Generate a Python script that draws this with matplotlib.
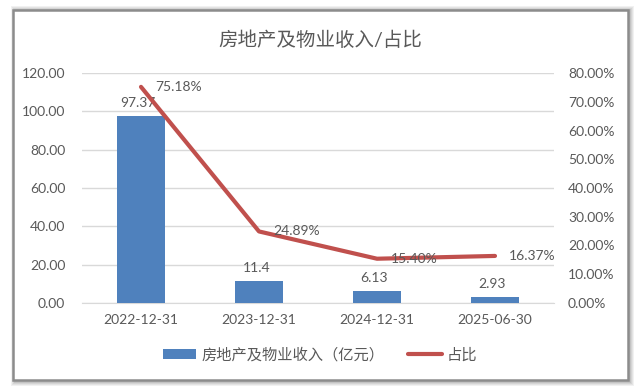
import numpy as np
import matplotlib.pyplot as plt
from matplotlib.patches import Rectangle
from matplotlib.ticker import FuncFormatter

plt.rcParams['font.family'] = ['Lato', 'Noto Sans CJK SC', 'DejaVu Sans']

# 数据
dates = ['2022-12-31', '2023-12-31', '2024-12-31', '2025-06-30']
income = [97.37, 11.4, 6.13, 2.93]          # 房地产及物业收入（亿元）
income_labels = ['97.37', '11.4', '6.13', '2.93']
share = [75.18, 24.89, 15.40, 16.37]        # 占比 %

txt = '#595959'
blue = '#4F81BD'
red = '#C0504D'

fig = plt.figure(figsize=(6.4, 3.9), dpi=100)

# 外框和阴影
W, H = 640.0, 390.0
for k, a in enumerate([0.10, 0.12, 0.15, 0.2]):
    d = 4 - k
    fig.patches.append(Rectangle(((13 - d + 2) / W, (10 - d - 2) / H),
                                 (615 + 2 * d) / W, (372 + 2 * d) / H,
                                 transform=fig.transFigure, facecolor='#7f7f7f',
                                 edgecolor='none', alpha=a, zorder=0))
fig.patches.append(Rectangle((13 / W, 10 / H), 615 / W, 370 / H,
                             transform=fig.transFigure, facecolor='white',
                             edgecolor='#8c8c8c', linewidth=1.8, zorder=1))

ax = fig.add_axes([82 / W, 1 - 303 / H, 472 / W, 230 / H])
ax.set_zorder(2)
ax.patch.set_visible(False)
x = np.arange(len(dates))
bars = ax.bar(x, income, width=0.4, color=blue, zorder=3, label='房地产及物业收入（亿元）')
ax.set_xlim(-0.5, 3.5)
ax.set_ylim(0, 120)
ax.set_yticks(np.arange(0, 121, 20))
ax.yaxis.set_major_formatter(FuncFormatter(lambda v, p: f'{v:.2f}'))
ax.set_xticks(x)
ax.set_xticklabels(dates)
ax.grid(axis='y', color='#d9d9d9', linewidth=1, zorder=0)
for s in ['top', 'left', 'right']:
    ax.spines[s].set_visible(False)
ax.spines['bottom'].set_color('#d9d9d9')
ax.tick_params(length=0, labelsize=10, labelcolor=txt, pad=8)
ax.tick_params(axis='y', pad=12)

for xi, v, lab in zip(x, income, income_labels):
    ax.annotate(lab, (xi, v), xytext=(-2, 5), textcoords='offset points',
                ha='center', va='bottom', fontsize=10, color=txt, zorder=5)

ax2 = ax.twinx()
ax2.plot(x, share, color=red, linewidth=3, zorder=4, label='占比',
         solid_capstyle='round')
ax2.set_ylim(0, 80)
ax2.set_yticks(np.arange(0, 81, 10))
ax2.yaxis.set_major_formatter(FuncFormatter(lambda v, p: f'{v:.2f}%'))
for s in ['top', 'left', 'right', 'bottom']:
    ax2.spines[s].set_visible(False)
ax2.tick_params(length=0, labelsize=10, labelcolor=txt, pad=10)
for xi, v in zip(x, share):
    ax2.annotate(f'{v:.2f}%', (xi, v), xytext=(10, 0), textcoords='offset points',
                 ha='left', va='center', fontsize=10, color=txt, zorder=5)

fig.text(0.5, 1 - 40 / H, '房地产及物业收入/占比', ha='center', va='center',
         fontsize=14, color=txt)

h1, l1 = ax.get_legend_handles_labels()
h2, l2 = ax2.get_legend_handles_labels()
fig.legend(h1 + h2, l1 + l2, loc='center', bbox_to_anchor=(0.5, 1 - 355 / H),
           ncol=2, frameon=False, fontsize=11, labelcolor=txt,
           handlelength=2.2, handleheight=0.55, columnspacing=1.6, handletextpad=0.3)

fig.savefig('out.png', dpi=100)
